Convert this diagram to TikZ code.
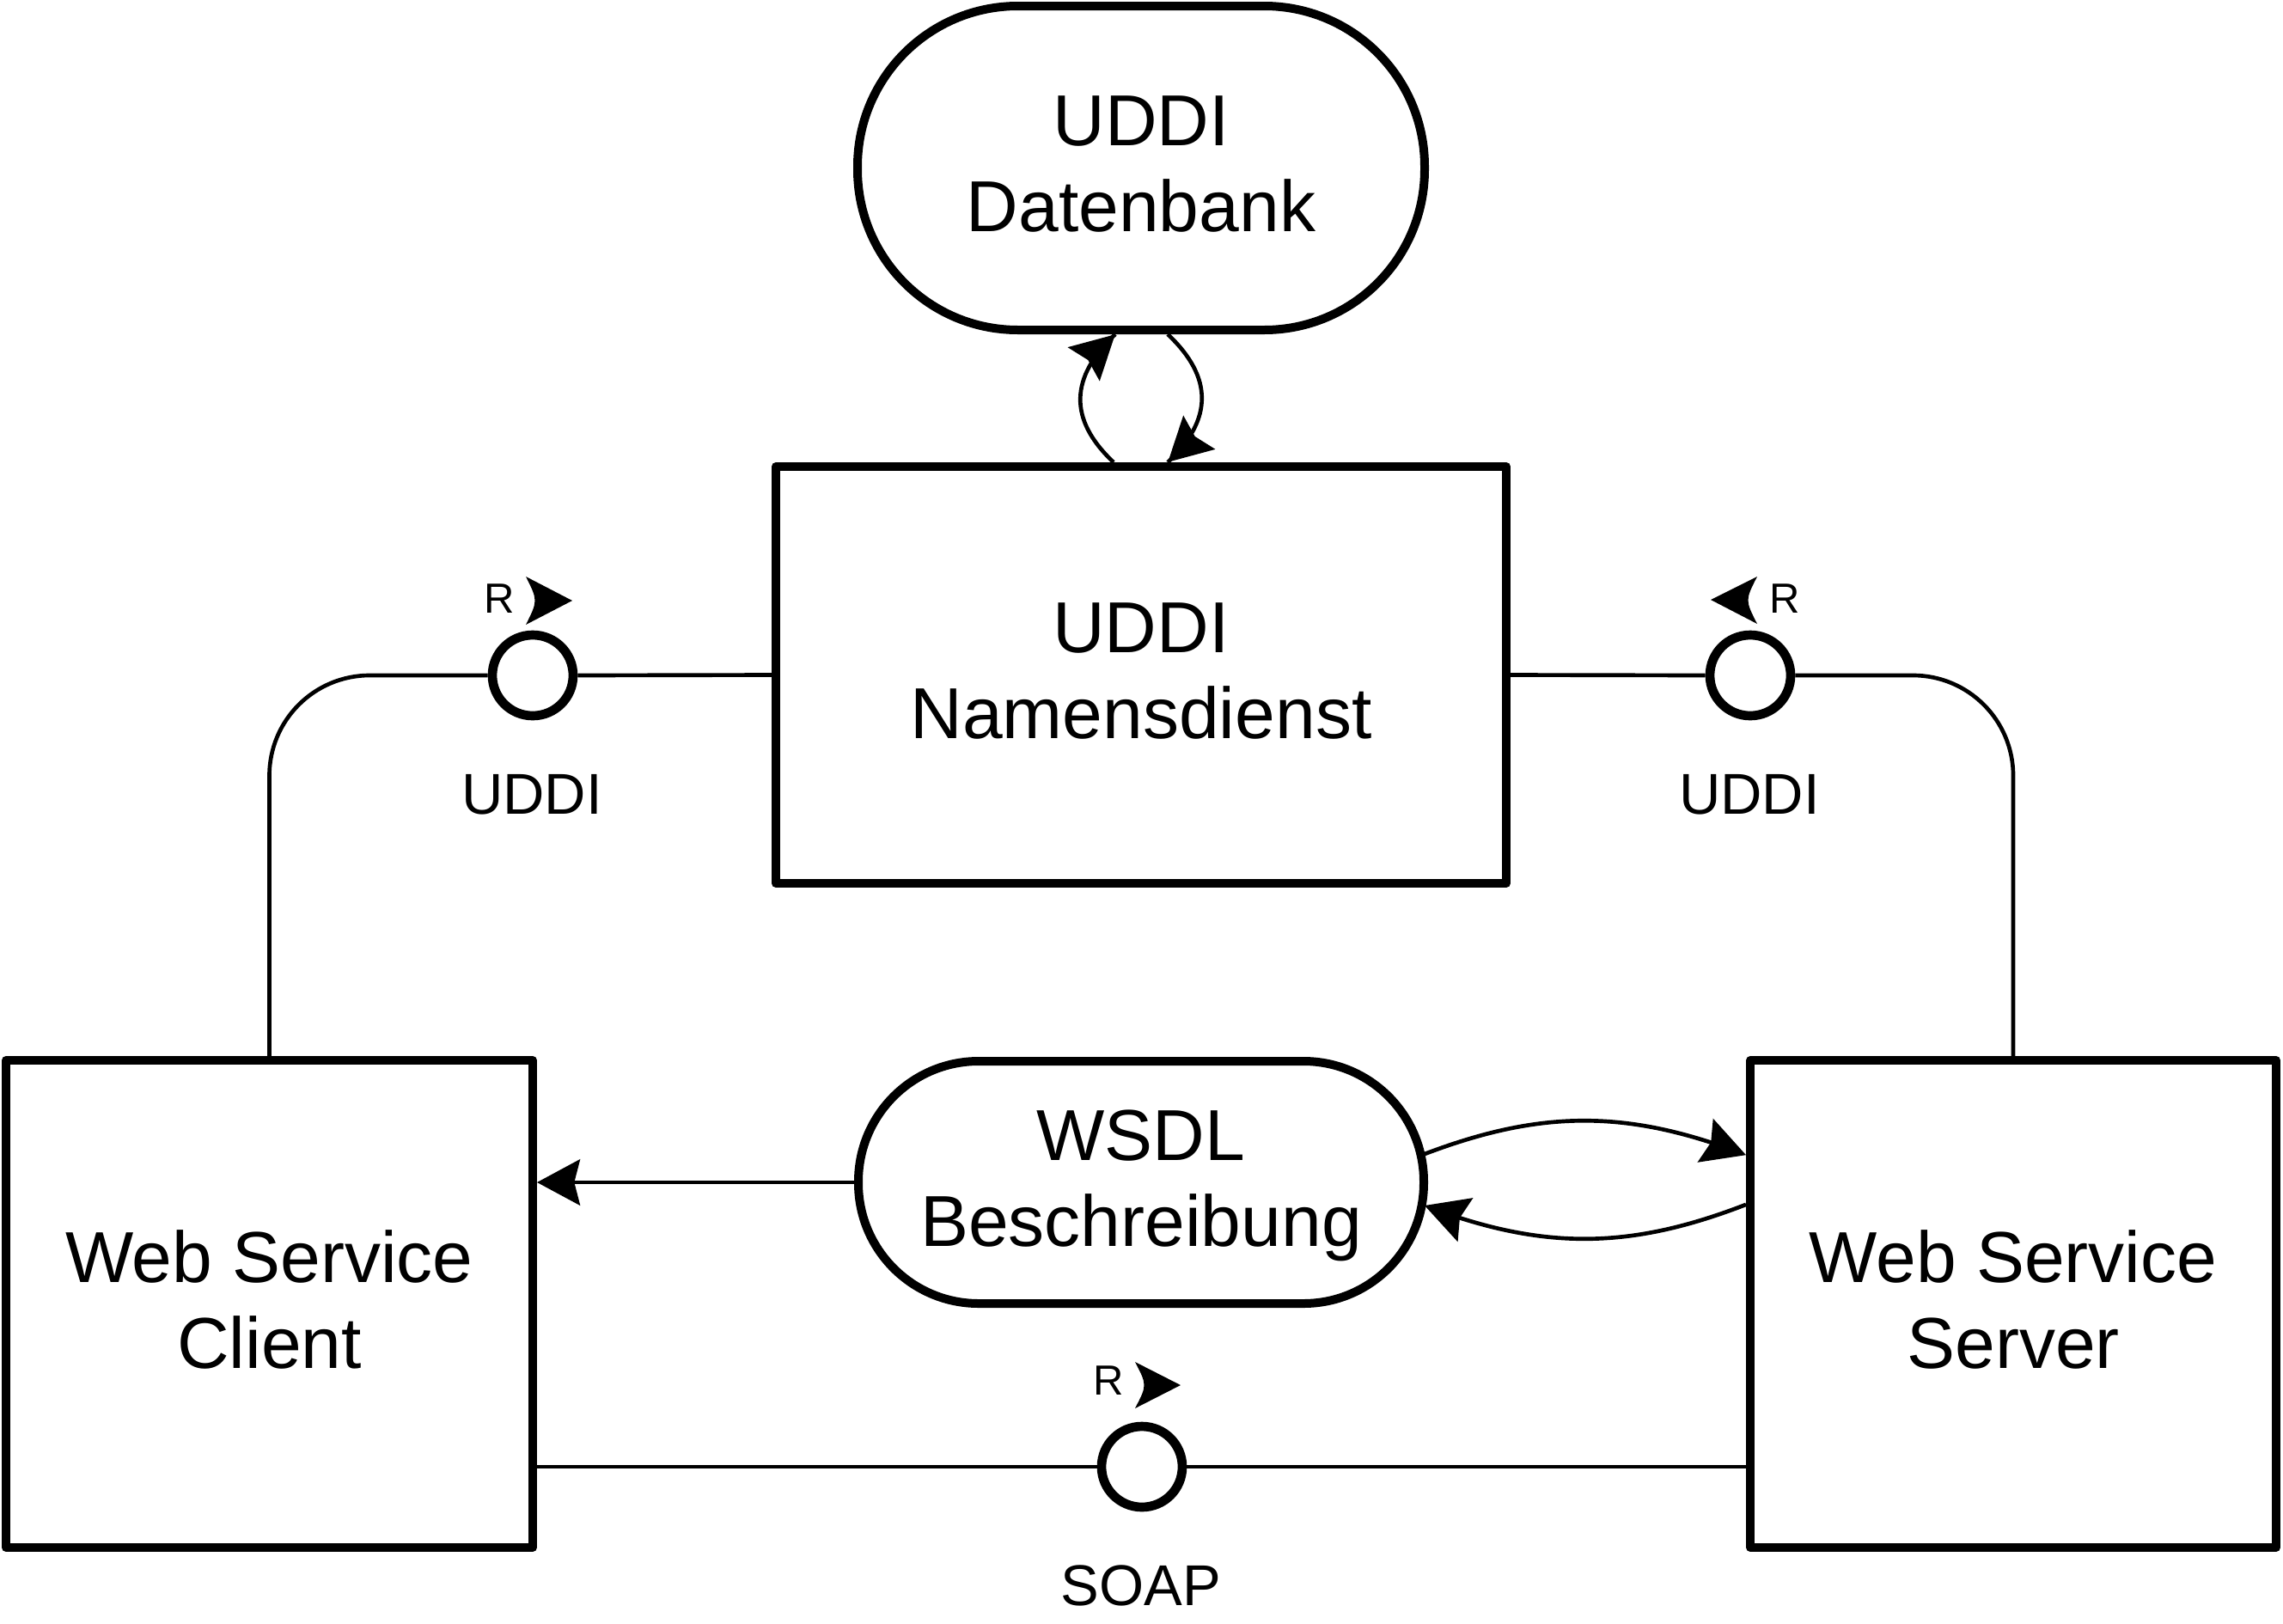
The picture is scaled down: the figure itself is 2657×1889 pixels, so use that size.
\documentclass[tikz,border=0pt]{standalone}
\usepackage{fontspec}
\setmainfont{Liberation Sans}
\usetikzlibrary{arrows.meta,bending,decorations.markings}
\newcommand\dgMain{\fontsize{25.2pt}{30pt}\selectfont}
\newcommand\dgLbl{\fontsize{20.1pt}{24pt}\selectfont}
\newcommand\dgR{\fontsize{14.7pt}{17pt}\selectfont}
\begin{document}
\begin{tikzpicture}[x=0.3pt,y=-0.3pt,
  box/.style={draw, line width=3pt, line join=round, fill=white, align=center, font=\dgMain, inner sep=0pt, text depth=3pt},
  lolli/.style={circle, draw, line width=3.2pt, fill=white, minimum size=28.2pt, inner sep=0pt},
  conn/.style={line width=1.4pt},
  arr/.style={conn, -{Stealth[length=15pt,width=16pt,inset=2pt,flex]}},
  endarr/.style={conn, postaction={decorate}, decoration={markings, mark=at position 0.998 with {\arrow{Stealth[length=15pt,width=16pt,inset=2pt]}}}},
  lbl/.style={font=\dgLbl, anchor=base, inner sep=0pt},
  rlbl/.style={font=\dgR, anchor=base, inner sep=0pt}]
\fill[white] (0,0) rectangle (2657,1889);
\useasboundingbox (0,0) rectangle (2657,1889);

% main nodes
\node[box, rounded corners=56pt, minimum width=198pt, minimum height=113.1pt] (db) at (1328,195.5) {UDDI\\Datenbank};
\node[box, minimum width=255pt, minimum height=145.5pt] (names) at (1328,785.5) {UDDI\\Namensdienst};
\node[box, rounded corners=42pt, minimum width=197.4pt, minimum height=84.6pt, text depth=2.7pt] (wsdl) at (1328,1376) {WSDL\\Beschreibung};
\node[box, minimum width=183.9pt, minimum height=170.1pt] (client) at (313.5,1517.5) {Web Service\\Client};
\node[box, minimum width=183.6pt, minimum height=170.1pt] (server) at (2343,1517.5) {Web Service\\Server};

% lollipops
\node[lolli] (uddiL) at (620,786) {};
\node[lolli] (uddiR) at (2037,786) {};
\node[lolli] (soap) at (1329,1707) {};

% labels
\node[lbl] (tL) at (619,947) {UDDI};
\node[lbl] (tR) at (2036,947) {UDDI};
\node[lbl] (tS) at (1328,1868) {SOAP};
\node[rlbl] (rL) at (581,713) {R};
\node[rlbl] (rR) at (2077,713) {R};
\node[rlbl] (rS) at (1290,1623) {R};

% R direction arrows
\fill (612,671) -- (666,699) -- (612,727) .. controls (626,699) .. (612,671) -- cycle;
\fill (2045,671) -- (1991,698) -- (2045,726) .. controls (2031,698.5) .. (2045,671) -- cycle;
\fill (1321,1585) -- (1374,1612) -- (1321,1639) .. controls (1335,1612) .. (1321,1585) -- cycle;

% connectors
\draw[conn, rounded corners=35pt] (client.north) |- (uddiL.west);
\draw[conn] (uddiL.east) -- (names.west);
\draw[conn] (names.east) -- (uddiR.west);
\draw[conn, rounded corners=35pt] (uddiR.east) -| (server.north);
\draw[conn] (client.east |- soap.west) -- (soap.west);
\draw[conn] (soap.east) -- (server.west |- soap.east);
\draw[arr] (wsdl.west) -- (client.east |- wsdl.west);
\draw[arr] ([xshift=-1.2pt,yshift=9.9pt]wsdl.east) to[bend left=21] ([yshift=52pt]server.west);
\draw[arr] ([yshift=34.7pt]server.west) to[bend left=21] ([xshift=-1.2pt,yshift=-8.1pt]wsdl.east);
\draw[endarr] ([xshift=-9.6pt]names.north) .. controls +(-53,-50) and +(-53,50) .. ([xshift=-9pt]db.south);
\draw[endarr] ([xshift=9.3pt]db.south) .. controls +(53,50) and +(53,-50) .. ([xshift=9.3pt]names.north);
\end{tikzpicture}
\end{document}
